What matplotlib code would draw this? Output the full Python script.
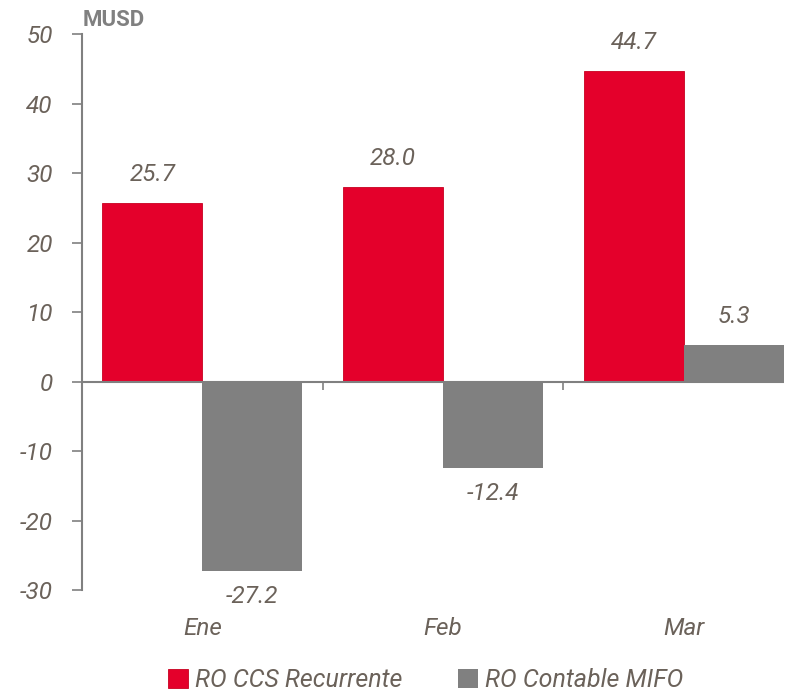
import matplotlib.pyplot as plt
import numpy as np

# Data
months = ["Ene", "Feb", "Mar"]
ro_ccs = [25.7, 28.0, 44.7]
ro_mifo = [-27.2, -12.4, 5.3]
series_names = ["RO CCS Recurrente", "RO Contable MIFO"]

red = "#e4002b"
grey = "#808080"
txt = "#6b625a"
font = "Roboto"

fig = plt.figure(figsize=(7.96, 6.96), dpi=100)
ax = fig.add_axes([0.103, 0.152, 0.882, 0.799])

x = np.arange(len(months))
w = 0.415
b1 = ax.bar(x - w / 2, ro_ccs, w, color=red, edgecolor="#c8001f", linewidth=0.6, label=series_names[0])
b2 = ax.bar(x + w / 2, ro_mifo, w, color=grey, label=series_names[1])

# value labels
for rect, v in zip(list(b1) + list(b2), ro_ccs + ro_mifo):
    xc = rect.get_x() + rect.get_width() / 2
    if v >= 0:
        ax.annotate(f"{v:.1f}", (xc, v), xytext=(0, 12), textcoords="offset points",
                    ha="center", va="bottom", fontsize=17.5, style="italic", color=txt, family=font)
    else:
        ax.annotate(f"{v:.1f}", (xc, v), xytext=(0, -10), textcoords="offset points",
                    ha="center", va="top", fontsize=17.5, style="italic", color=txt, family=font)

ax.set_ylim(-30, 50)
ax.set_xlim(-0.5, len(months) - 0.5 - 0.083)
ax.set_yticks(range(-30, 51, 10))
ax.set_yticklabels([str(t) for t in range(-30, 51, 10)], fontsize=17.5, style="italic",
                   color=txt, family=font)
ax.tick_params(axis="y", length=7, width=1.2, color=grey, pad=14)

# category labels below plot
ax.set_xticks(x)
ax.set_xticklabels(months, fontsize=17.5, style="italic", color=txt, family=font)
ax.tick_params(axis="x", length=0, pad=19)

for s in ["top", "right", "bottom"]:
    ax.spines[s].set_visible(False)
ax.spines["left"].set_color(grey)
ax.spines["left"].set_linewidth(1.5)

# zero line with small boundary ticks
ax.axhline(0, color=grey, linewidth=1.5, zorder=3)
for i in range(len(months) - 1):
    ax.plot(i + 0.5, 0, marker=3, markersize=6, markeredgewidth=1.2, color=grey,
            zorder=3, clip_on=False)

fig.text(0.104, 0.963, "MUSD", fontsize=16, fontweight="bold", color=grey, family=font)

leg = fig.legend(handles=[b1, b2], loc="lower center", bbox_to_anchor=(0.535, -0.027), ncol=2,
                 frameon=False, handlelength=0.8, handleheight=0.8, handletextpad=0.3,
                 columnspacing=2.2, prop={"family": font, "style": "italic", "size": 18})
for t in leg.get_texts():
    t.set_color(txt)

fig.savefig("out.png", dpi=100)
